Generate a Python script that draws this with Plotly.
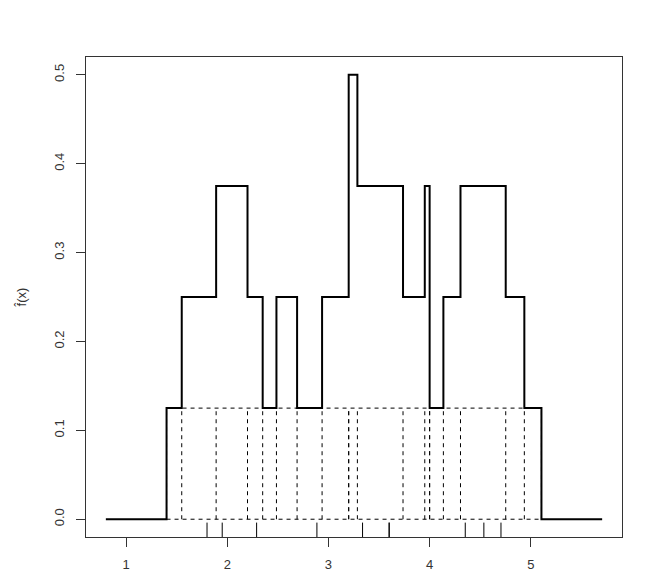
import numpy as np
import plotly.graph_objects as go

# observations (read off the rug), bandwidth of the naive estimator
x_obs = [1.80, 1.95, 2.29, 2.886, 3.337, 3.60, 3.60, 4.352, 4.536, 4.705]
h = 0.4
x_ticks = [1, 2, 3, 4, 5]
y_ticks = [0.0, 0.1, 0.2, 0.3, 0.4, 0.5]

xs = np.array(x_obs)
n = len(xs)
box_h = 1.0 / (2 * h * n)

# naive estimator on the grid [min-1, max+1], evaluated exactly at breakpoints
lo, hi = xs.min() - 1, xs.max() + 1
edges = np.sort(np.concatenate([[lo], xs - h, xs + h, [hi]]))
def fhat(t):
    return np.sum(np.abs(t - xs) < h) / (2 * h * n)
mids = (edges[:-1] + edges[1:]) / 2
vals = [fhat(m) for m in mids]
step_x = list(edges)
step_y = vals + [vals[-1]]

# dashed boxes: vertical edges + top/bottom lines across the union
bx, by = [], []
for e in np.concatenate([xs - h, xs + h]):
    bx += [e, e, None]
    by += [0, box_h, None]
left, right = (xs - h).min(), (xs + h).max()
bx += [left, right, None, left, right, None]
by += [0, 0, None, box_h, box_h, None]

# rug
ymin, ymax = -0.02, 0.52
rug_top = ymin + 0.03 * (ymax - ymin)
rx, ry = [], []
for v in x_obs:
    rx += [v, v, None]
    ry += [ymin, rug_top, None]

xr = (hi - lo) * 0.04

fig = go.Figure()
fig.add_trace(go.Scatter(x=bx, y=by, mode="lines",
                         line=dict(color="black", width=1, dash="4px,4px"),
                         hoverinfo="skip"))
fig.add_trace(go.Scatter(x=step_x, y=step_y, mode="lines", line_shape="hv",
                         line=dict(color="black", width=2)))
fig.add_trace(go.Scatter(x=rx, y=ry, mode="lines",
                         line=dict(color="black", width=1), hoverinfo="skip"))

font = dict(family="Liberation Sans, Arial, sans-serif", size=13, color="#333")
fig.update_layout(
    width=649, height=586,
    margin=dict(l=86, r=27, t=57, b=49, autoexpand=False),
    paper_bgcolor="white", plot_bgcolor="white",
    showlegend=False, font=font,
    xaxis=dict(range=[lo - xr, hi + xr], tickvals=x_ticks,
               ticktext=[str(t) for t in x_ticks],
               showgrid=False, zeroline=False, showline=True, mirror=True,
               linecolor="#333", linewidth=1, ticks="outside", ticklen=9,
               tickcolor="#333", tickfont=font, automargin=False,
               ticklabelstandoff=6),
    yaxis=dict(range=[ymin, ymax], tickvals=y_ticks,
               ticktext=[f"{t:.1f}" for t in y_ticks], tickangle=-90,
               showgrid=False, zeroline=False, showline=True, mirror=True,
               linecolor="#333", linewidth=1, ticks="outside", ticklen=9,
               tickcolor="#333", tickfont=font, automargin=False,
               ticklabelstandoff=7,
               title=dict(text="f\u0302(x)", font=font, standoff=22)),
)
fig.write_html("out.html", config={"displayModeBar": False},
               post_script="document.body.style.margin='0';")
